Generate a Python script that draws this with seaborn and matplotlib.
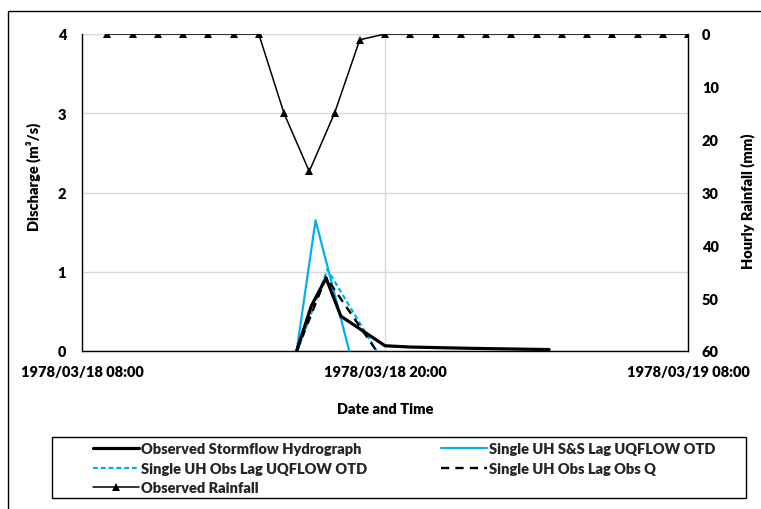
import matplotlib
matplotlib.use("Agg")
import matplotlib.pyplot as plt
import matplotlib.dates as mdates
from matplotlib.patches import Rectangle
import seaborn as sns
import pandas as pd

# ---------------- data ----------------
obs_times = ["1978-03-18 16:30", "1978-03-18 17:05", "1978-03-18 17:40", "1978-03-18 18:15",
             "1978-03-18 20:00", "1978-03-18 21:00", "1978-03-18 23:20", "1978-03-19 02:30"]
obs_q = [0.0, 0.57, 0.92, 0.44, 0.066, 0.05, 0.034, 0.018]

ss_times = ["1978-03-18 16:30", "1978-03-18 17:15", "1978-03-18 18:35"]
ss_q = [0.0, 1.65, 0.0]

uq_times = ["1978-03-18 16:32", "1978-03-18 17:43", "1978-03-18 19:40"]
uq_q = [0.0, 1.03, 0.0]

oq_times = ["1978-03-18 16:30", "1978-03-18 17:40", "1978-03-18 19:40"]
oq_q = [0.0, 0.93, 0.0]

rain_times = ["1978-03-18 09:00", "1978-03-18 10:00", "1978-03-18 11:00", "1978-03-18 12:00",
              "1978-03-18 13:00", "1978-03-18 14:00", "1978-03-18 15:00", "1978-03-18 16:00",
              "1978-03-18 17:00", "1978-03-18 18:00", "1978-03-18 19:00", "1978-03-18 20:00",
              "1978-03-18 21:00", "1978-03-18 22:00", "1978-03-18 23:00", "1978-03-19 00:00",
              "1978-03-19 01:00", "1978-03-19 02:00", "1978-03-19 03:00", "1978-03-19 04:00",
              "1978-03-19 05:00", "1978-03-19 06:00", "1978-03-19 07:00", "1978-03-19 08:00"]
rain_mm = [0, 0, 0, 0, 0, 0, 0, 15, 26, 15, 1.1, 0,
           0, 0, 0, 0, 0, 0, 0, 0, 0, 0, 0, 0]

x_ticks = ["1978-03-18 08:00", "1978-03-18 20:00", "1978-03-19 08:00"]
q_ticks = [0, 1, 2, 3, 4]
rain_ticks = [0, 10, 20, 30, 40, 50, 60]

labels = ["Observed Stormflow Hydrograph", "Single UH S&S Lag UQFLOW OTD",
          "Single UH Obs Lag UQFLOW OTD", "Single UH Obs Lag Obs Q", "Observed Rainfall"]

# ---------------- style ----------------
sns.set_theme(style="white")
plt.rcParams['font.family'] = ['Lato', 'DejaVu Sans']
WT = "heavy"
plt.rcParams['font.weight'] = WT
FS = 10.5
CYAN = "#00B0F0"

fig = plt.figure(figsize=(7.61, 5.10), dpi=100)
W, H = 761, 510
ax = fig.add_axes([82 / W, 1 - 352 / H, 606 / W, 317 / H])
ax2 = ax.twinx()

def frame(t, v, col):
    return pd.DataFrame({"time": pd.to_datetime(t), col: v})

sns.lineplot(data=frame(obs_times, obs_q, "q"), x="time", y="q", ax=ax, color="black",
             lw=2.3, label=labels[0], zorder=5)
sns.lineplot(data=frame(ss_times, ss_q, "q"), x="time", y="q", ax=ax, color=CYAN,
             lw=1.6, label=labels[1], zorder=3)
sns.lineplot(data=frame(uq_times, uq_q, "q"), x="time", y="q", ax=ax, color=CYAN,
             lw=1.6, linestyle=(0, (2.2, 1.3)), label=labels[2], zorder=3)
sns.lineplot(data=frame(oq_times, oq_q, "q"), x="time", y="q", ax=ax, color="black",
             lw=1.7, linestyle=(0, (3.5, 2.6)), label=labels[3], zorder=4)
sns.lineplot(data=frame(rain_times, rain_mm, "rain"), x="time", y="rain", ax=ax2,
             color="black", lw=1.1, marker="^", markersize=5.5, markeredgewidth=0,
             label=labels[4])

h1, l1 = ax.get_legend_handles_labels()
h2, l2 = ax2.get_legend_handles_labels()
for a in (ax, ax2):
    if a.get_legend() is not None:
        a.get_legend().remove()

# axes limits & ticks
ax.set_xlim(pd.Timestamp(x_ticks[0]), pd.Timestamp(x_ticks[-1]))
ax.set_ylim(0, 4)
ax2.set_ylim(60, 0)
ax.set_xticks(pd.to_datetime(x_ticks))
ax.xaxis.set_major_formatter(mdates.DateFormatter("%Y/%m/%d %H:%M"))
ax.set_yticks(q_ticks)
ax2.set_yticks(rain_ticks)

ax.grid(True, color="#D9D9D9", lw=1.0)
ax2.grid(False)
ax.set_axisbelow(True)

for s in ("top", "right"):
    ax.spines[s].set_visible(False)
for s in ("left", "bottom"):
    ax.spines[s].set_color("black")
    ax.spines[s].set_linewidth(1.0)
for s in ("top", "left", "bottom"):
    ax2.spines[s].set_visible(False)
ax2.spines["right"].set_color("black")
ax2.spines["right"].set_linewidth(1.0)

ax.tick_params(axis="y", length=0, pad=11.5, labelsize=FS, labelcolor="black")
ax.tick_params(axis="x", length=0, pad=10, labelsize=FS, labelcolor="black")
ax2.tick_params(axis="y", length=0, pad=10, labelsize=FS, labelcolor="black")
for lab in ax.get_xticklabels() + ax.get_yticklabels() + ax2.get_yticklabels():
    lab.set_fontweight(WT)

ax.set_xlabel("Date and Time", fontsize=FS, fontweight=WT, color="black")
ax.set_ylabel("Discharge (m³/s)", fontsize=FS, fontweight=WT, color="black")
ax2.set_ylabel("Hourly Rainfall (mm)", fontsize=FS, fontweight=WT, color="black")
ax.xaxis.set_label_coords(0.5, (352 - 410) / 317)
ax.xaxis.label.set_va("center")
ax.yaxis.set_label_coords((33 - 82) / 606, (352 - 177) / 317)
ax.yaxis.label.set_va("center")
ax2.yaxis.set_label_coords((748 - 82) / 606, (352 - 201) / 317)
ax2.yaxis.label.set_va("center")

# legend (rows: obs | S&S ; ObsLag UQ | ObsLag ObsQ ; rainfall)
hd = dict(zip(l1 + l2, h1 + h2))
order = [labels[0], labels[2], labels[4], labels[1], labels[3]]
fig.legend([hd[k] for k in order], order, loc="upper left",
           bbox_to_anchor=(93 / W, 1 - 443 / H), ncol=2, frameon=False,
           handlelength=3.15, handletextpad=0.15, columnspacing=5.05,
           labelspacing=0.46, borderpad=0, borderaxespad=0,
           prop=dict(weight=WT, size=FS))

# legend box and chart-area border
fig.add_artist(Rectangle((52 / W, 1 - 499 / H), 694 / W, 61 / H, transform=fig.transFigure,
                         fill=False, ec="black", lw=1.0))
fig.add_artist(Rectangle((8 / W, -0.2), 1.2, 1.2 - 12 / H, transform=fig.transFigure,
                         fill=False, ec="black", lw=1.0, clip_on=False))

fig.savefig("out.png", dpi=100)
